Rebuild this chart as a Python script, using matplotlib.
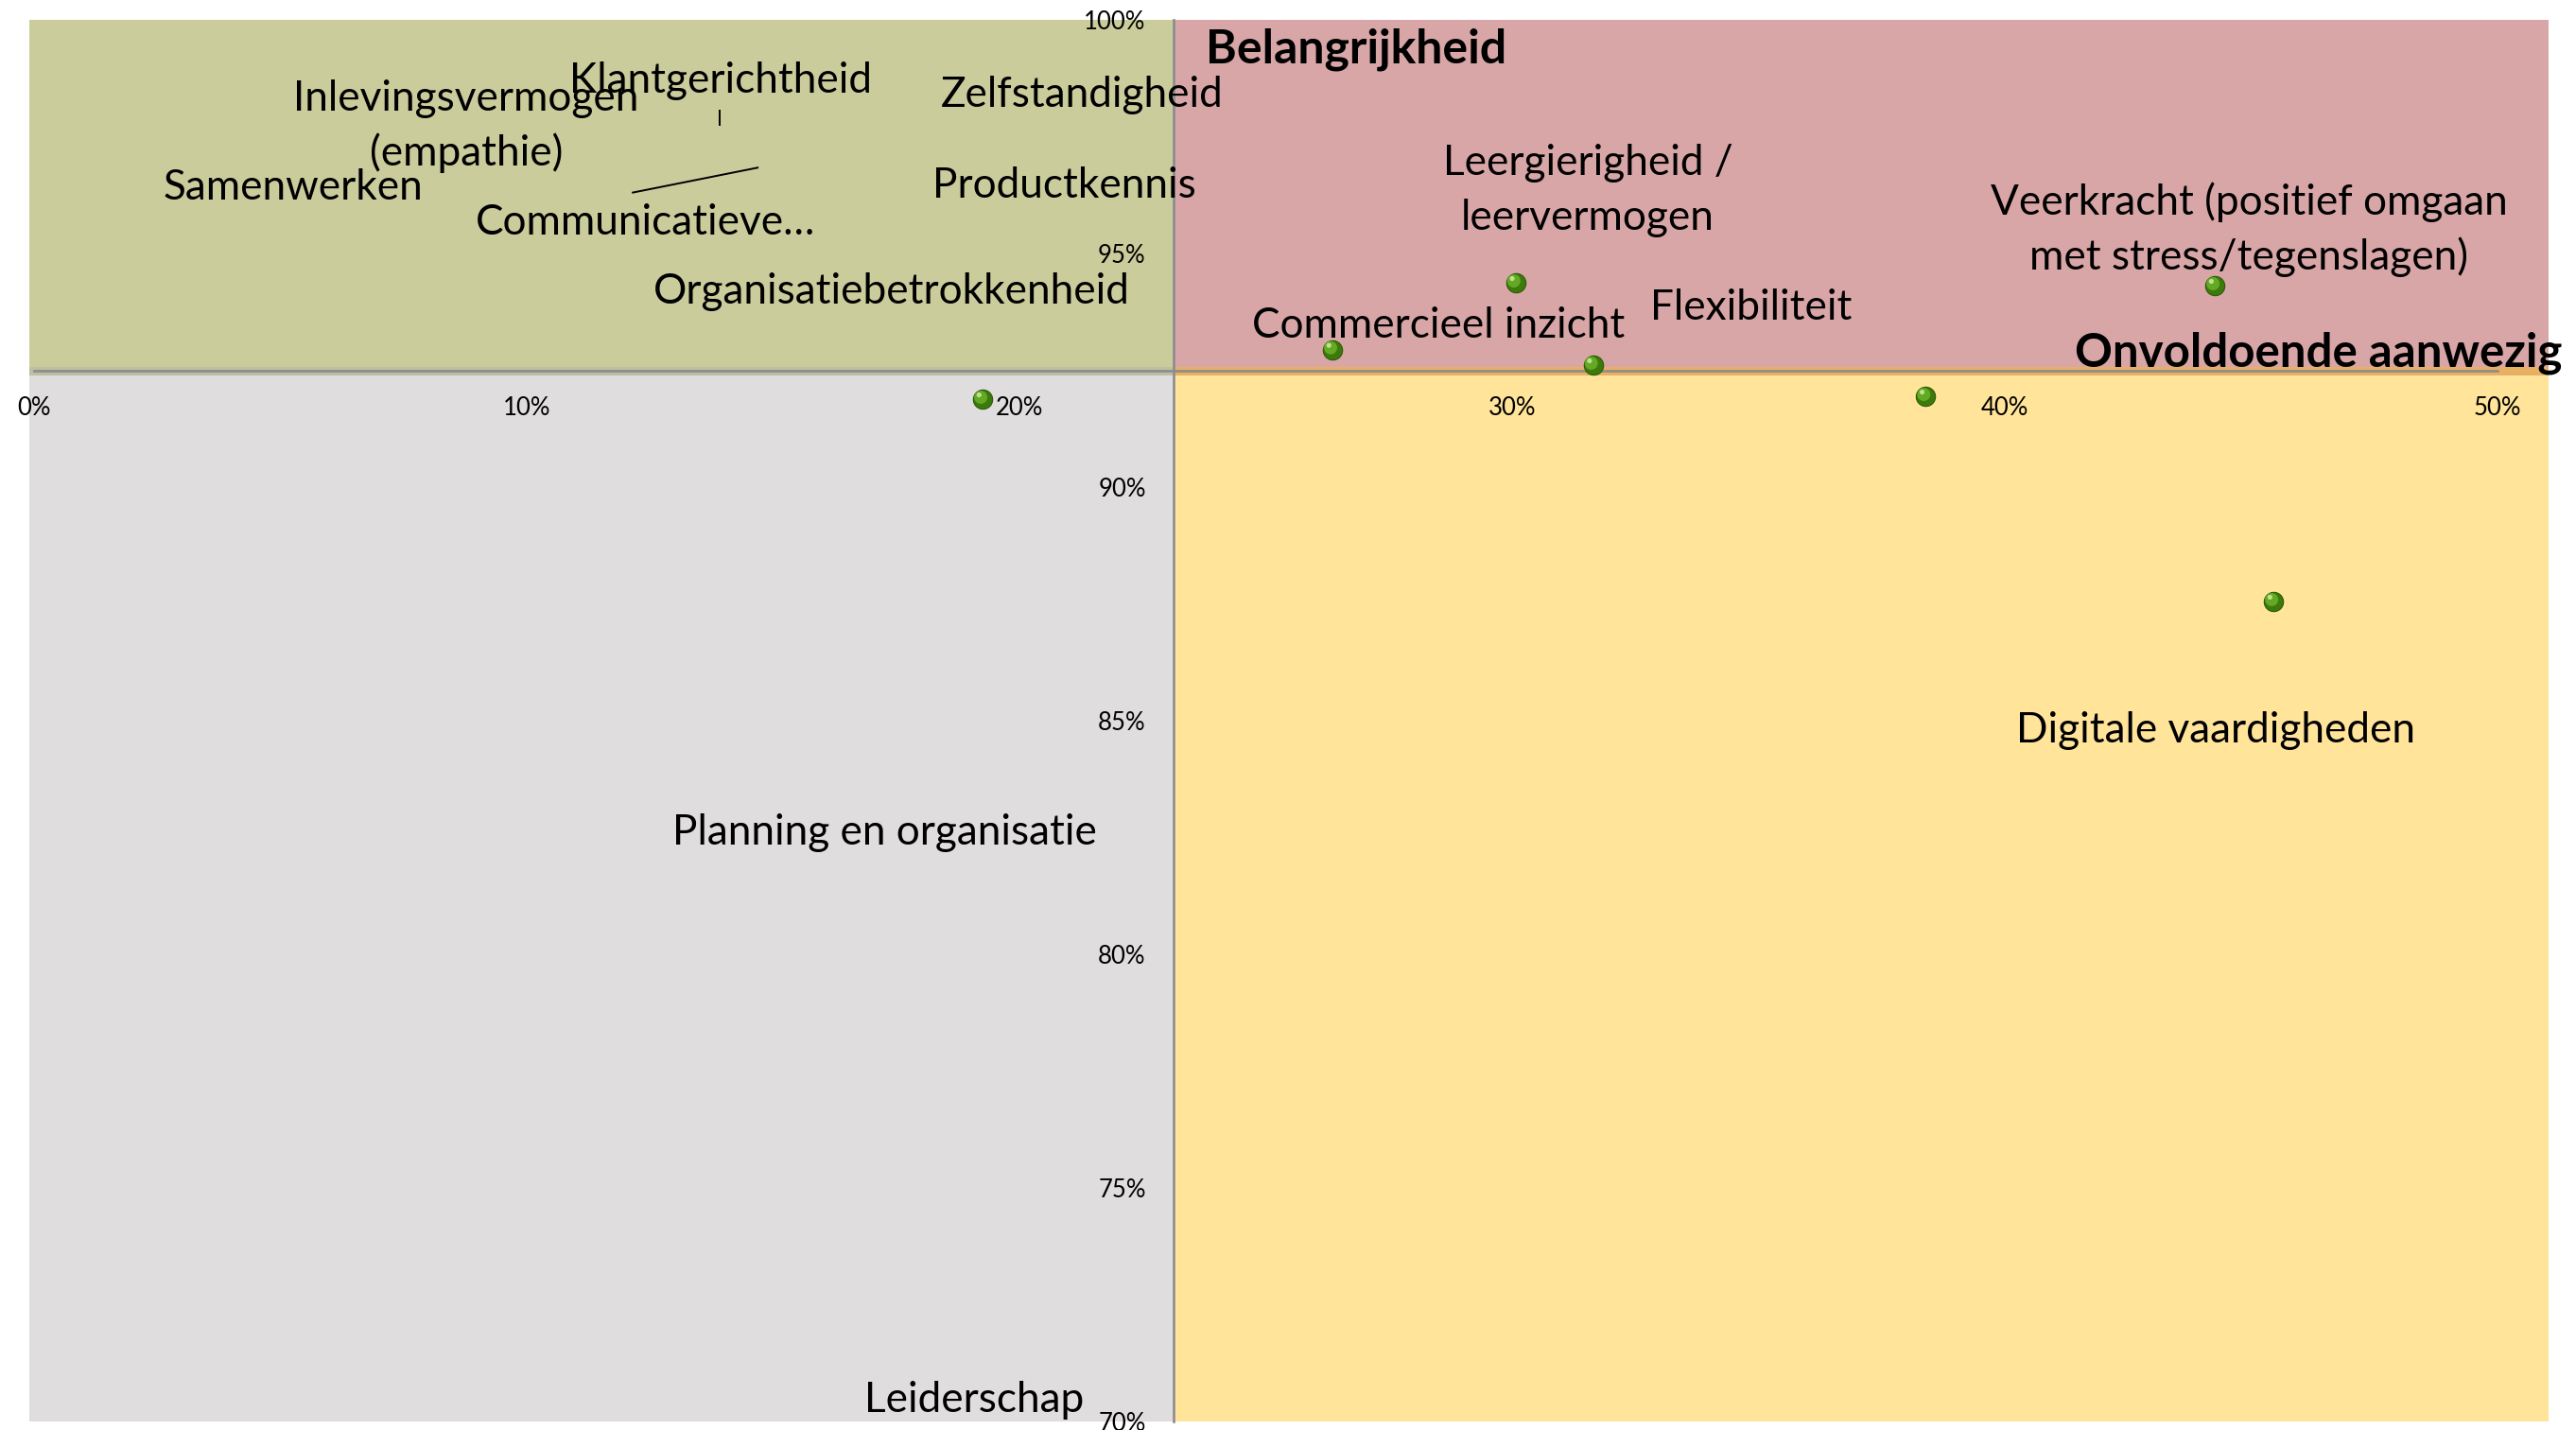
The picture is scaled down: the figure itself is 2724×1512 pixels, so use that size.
import matplotlib
matplotlib.use("Agg")
import matplotlib.pyplot as plt
from matplotlib.patches import Rectangle
from matplotlib.transforms import ScaledTranslation

plt.rcParams['font.family'] = ['Lato', 'DejaVu Sans']

# ---------------- data ----------------
# visible points: x = onvoldoende aanwezig, y = belangrijkheid
point_x = [0.1926, 0.2636, 0.3008, 0.3165, 0.3840, 0.4427, 0.4546]
point_y = [0.9188, 0.9294, 0.9437, 0.9261, 0.9194, 0.9431, 0.8755]

# data labels (as moved in the original chart)
label_text = [
    "Inlevingsvermogen\n(empathie)",
    "Klantgerichtheid",
    "Samenwerken",
    "Communicatieve…",
    "Zelfstandigheid",
    "Productkennis",
    "Organisatiebetrokkenheid",
    "Commercieel inzicht",
    "Leergierigheid /\nleervermogen",
    "Flexibiliteit",
    "Veerkracht (positief omgaan\nmet stress/tegenslagen)",
    "Digitale vaardigheden",
    "Planning en organisatie",
    "Leiderschap",
]
label_x = [0.0878, 0.1394, 0.0526, 0.1242, 0.2127, 0.2091, 0.1741,
           0.2851, 0.3154, 0.3486, 0.4496, 0.4429, 0.1726, 0.1908]
label_y = [0.9806, 0.9844, 0.9615, 0.9540, 0.9814, 0.9619, 0.9393,
           0.9320, 0.9668, 0.9358, 0.9583, 0.8453, 0.8235, 0.7020]

# leader lines of moved labels
leader_x = [[0.1392, 0.1392], [0.1214, 0.1471]]
leader_y = [[0.9808, 0.9773], [0.9630, 0.9684]]

x_ticks = [0.0, 0.1, 0.2, 0.3, 0.4, 0.5]
x_ticklabels = ["0%", "10%", "20%", "30%", "40%", "50%"]
y_ticks = [0.70, 0.75, 0.80, 0.85, 0.90, 0.95, 1.00]
y_ticklabels = ["70%", "75%", "80%", "85%", "90%", "95%", "100%"]

x_cross = 0.2313   # where the vertical axis crosses
y_cross = 0.9248   # where the horizontal axis crosses
x_min, x_max = -0.0009, 0.5104
y_min, y_max = 0.70, 1.00

y_title = "Belangrijkheid"
x_title = "Onvoldoende aanwezig"

# ---------------- figure ----------------
W, H = 2724, 1512
fig = plt.figure(figsize=(W / 100, H / 100), dpi=100)
fig.patch.set_facecolor("white")
ax = fig.add_axes([31 / W, 9 / H, 2664 / W, 1482 / H])
ax.set_xlim(x_min, x_max)
ax.set_ylim(y_min, y_max)
ax.set_facecolor("none")

# quadrant backgrounds
c_green, c_pink, c_gray, c_yellow = "#CBCC9C", "#D8A6A7", "#DFDDDE", "#FFE49A"
ax.add_patch(Rectangle((x_min, y_cross), x_cross - x_min, y_max - y_cross,
                       facecolor=c_green, edgecolor="none", zorder=0))
ax.add_patch(Rectangle((x_cross, y_cross), x_max - x_cross, y_max - y_cross,
                       facecolor=c_pink, edgecolor="none", zorder=0))
ax.add_patch(Rectangle((x_min, y_min), x_cross - x_min, y_cross - y_min,
                       facecolor=c_gray, edgecolor="none", zorder=0))
ax.add_patch(Rectangle((x_cross, y_min), x_max - x_cross, y_cross - y_min,
                       facecolor=c_yellow, edgecolor="none", zorder=0))

# bands along the horizontal axis
band_h = 0.0018
ax.add_patch(Rectangle((x_min, y_cross - band_h / 2), x_cross - x_min, band_h,
                       facecolor="#BDBF9E", edgecolor="none", zorder=1))
ax.add_patch(Rectangle((x_cross, y_cross - band_h / 2), x_max - x_cross, band_h,
                       facecolor="#E8B062", edgecolor="none", zorder=1))

# axes through the middle
for s in ["top", "right"]:
    ax.spines[s].set_visible(False)
ax.spines["bottom"].set_position(("data", y_cross))
ax.spines["bottom"].set_bounds(0.0, 0.5)
ax.spines["left"].set_position(("data", x_cross))
ax.spines["left"].set_bounds(y_min, y_max)
for s in ["bottom", "left"]:
    ax.spines[s].set_color("#8A8C90")
    ax.spines[s].set_linewidth(1.9)
    ax.spines[s].set_zorder(2)

ax.set_xticks(x_ticks)
ax.set_xticklabels(x_ticklabels)
ax.set_yticks(y_ticks)
ax.set_yticklabels(y_ticklabels)
ax.tick_params(axis="both", length=0, labelsize=18.5, labelcolor="black")
ax.tick_params(axis="x", pad=19)
ax.tick_params(axis="y", pad=21)
for lab in ax.get_xticklabels() + ax.get_yticklabels():
    lab.set_clip_on(False)

# sphere-like markers
ax.scatter(point_x, point_y, s=215, color="#3C7A0C", edgecolors="#2C5A06",
           linewidths=0.8, zorder=5)
ax.scatter(point_x, point_y, s=100, color="#6CB229", edgecolors="none",
           alpha=0.85, zorder=6,
           transform=ax.transData + ScaledTranslation(-1.5 / 72, 1.5 / 72, fig.dpi_scale_trans))
ax.scatter(point_x, point_y, s=14, color="#D4F0A8", edgecolors="none",
           alpha=0.8, zorder=7,
           transform=ax.transData + ScaledTranslation(-2.8 / 72, 3.3 / 72, fig.dpi_scale_trans))

# leader lines
for lx, ly in zip(leader_x, leader_y):
    ax.plot(lx, ly, color="black", lw=1.4, zorder=4, solid_capstyle="butt")

# data labels
line_gap = 41.8  # points between lines
for txt, lx, ly in zip(label_text, label_x, label_y):
    for i, line in enumerate(txt.split("\n")):
        ax.annotate(line, xy=(lx, ly), xytext=(0, -i * line_gap),
                    textcoords="offset points", ha="center", va="baseline",
                    fontsize=31.8, color="black", zorder=8, annotation_clip=False)

# axis titles
ax.text(0.2379, 0.9907, y_title, ha="left", va="baseline", fontsize=36,
        fontweight="bold", color="black", zorder=8, clip_on=False)
ax.text(0.5131, 0.9259, x_title, ha="right", va="baseline", fontsize=35.5,
        fontweight="bold", color="black", zorder=8, clip_on=False)

fig.savefig("out.png", dpi=100)
